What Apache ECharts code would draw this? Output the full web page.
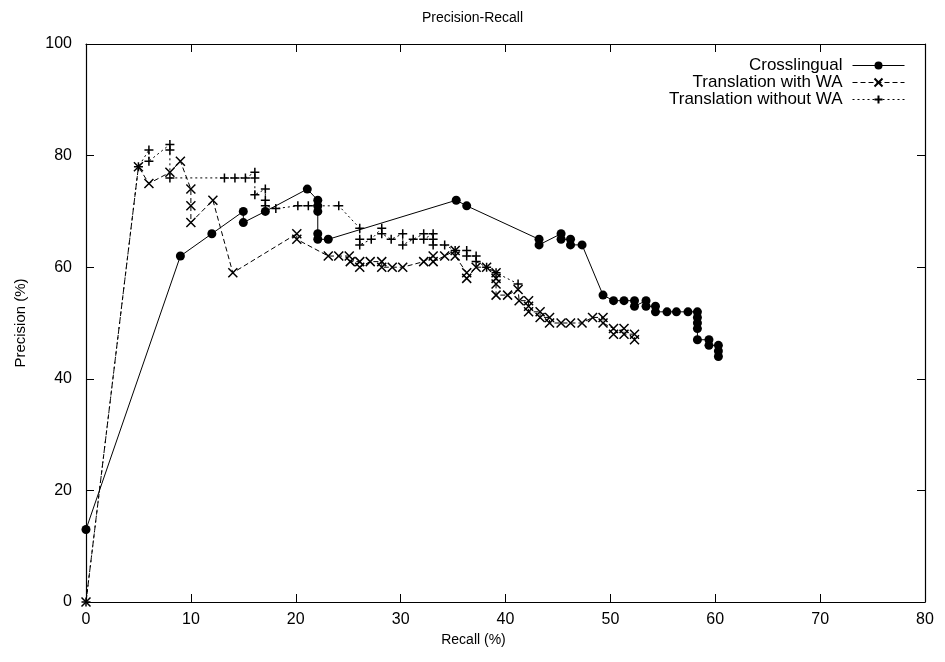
<!DOCTYPE html>
<html>
<head>
<meta charset="utf-8">
<script src="https://cdn.jsdelivr.net/npm/echarts@6/dist/echarts.min.js"></script>
<style>html,body{margin:0;padding:0;background:#fff}#c{width:945px;height:662px}</style>
</head>
<body>
<div id="c"></div>
<script>
var titleText = "Precision-Recall";
var seriesNames = ["Crosslingual", "Translation with WA", "Translation without WA"];
var xTicks = [0, 10, 20, 30, 40, 50, 60, 70, 80];
var yTicks = [0, 20, 40, 60, 80, 100];

var crossRecall = [0, 9, 12, 15, 15, 17.1, 21.1, 22.1, 22.1, 22.1, 22.1, 22.1, 23.1, 35.3, 36.3, 43.2, 43.2, 45.3, 45.3, 46.2, 46.2, 47.3, 49.3, 50.3, 51.3, 52.3, 52.3, 53.4, 53.4, 54.3, 54.3, 55.4, 56.3, 57.4, 58.3, 58.3, 58.3, 58.3, 58.3, 59.4, 59.4, 60.3, 60.3, 60.3];
var crossPrecision = [13, 62, 66, 70, 68, 70, 74, 72, 71, 70, 66, 65, 65, 72, 71, 65, 64, 66, 65, 65, 64, 64, 55, 54, 54, 54, 53, 54, 53, 53, 52, 52, 52, 52, 52, 51, 50, 49, 47, 47, 46, 46, 45, 44];

var withRecall = [0, 5, 6, 8, 9, 10, 10, 10, 12.1, 14, 20.1, 20.1, 23.1, 24.1, 25.1, 25.2, 26.1, 26.1, 27.1, 28.2, 28.2, 29.2, 30.2, 32.2, 33.1, 33.1, 34.2, 35.2, 35.2, 36.3, 36.3, 37.2, 38.2, 39.1, 39.1, 39.1, 39.1, 40.2, 41.2, 41.3, 42.2, 42.2, 42.2, 43.3, 43.3, 44.2, 44.2, 45.3, 46.2, 47.3, 48.3, 49.3, 49.3, 50.3, 50.3, 51.3, 51.3, 52.3, 52.3];
var withPrecision = [0, 78, 75, 77, 79, 74, 71, 68, 72, 59, 66, 65, 62, 62, 62, 61, 61, 60, 61, 61, 60, 60, 60, 61, 62, 61, 62, 63, 62, 59, 58, 60, 60, 59, 58, 57, 55, 55, 56, 54, 54, 53, 52, 52, 51, 51, 50, 50, 50, 50, 51, 51, 50, 49, 48, 49, 48, 48, 47];

var withoutRecall = [0, 5, 6, 6, 8, 8, 8, 13.2, 14.2, 15.2, 16.1, 16.1, 16.1, 17.1, 17.1, 17.1, 18.1, 20.2, 21.2, 24.1, 26.1, 26.1, 26.1, 27.2, 28.2, 28.2, 29.1, 30.2, 30.2, 31.2, 32.2, 32.2, 33.1, 33.1, 33.1, 34.2, 35.2, 36.3, 36.3, 37.2, 37.2, 38.2, 39.1, 41.2];
var withoutPrecision = [0, 78, 81, 79, 82, 81, 76, 76, 76, 76, 77, 76, 73, 74, 72, 71, 70.5, 71, 71, 71, 67, 65, 64, 65, 67, 66, 65, 66, 64, 65, 66, 65, 66, 65, 64, 64, 63, 63, 62, 62, 61, 60, 59, 57];

function pairs(xs, ys) { return xs.map(function (x, i) { return [x, ys[i]]; }); }

var FONT = "Liberation Sans";
var chart = echarts.init(document.getElementById('c'));
var axisCommon = {
  axisLine: { show: true, onZero: false, lineStyle: { color: '#000', width: 1.2 } },
  axisTick: { show: true, inside: true, length: 8, lineStyle: { color: '#000', width: 1 } },
  splitLine: { show: false }
};
function mkX(pos, showLabel) {
  return Object.assign({}, axisCommon, {
    type: 'value', position: pos, min: xTicks[0], max: xTicks[xTicks.length - 1], interval: 10,
    axisLabel: { show: showLabel, color: '#000', fontFamily: FONT, fontSize: 16, margin: 10 },
    name: showLabel ? 'Recall (%)' : '', nameLocation: 'middle', nameGap: 30,
    nameTextStyle: { color: '#000', fontFamily: FONT, fontSize: 14, padding: [0, 64, 0, 0] }
  });
}
function mkY(pos, showLabel) {
  return Object.assign({}, axisCommon, {
    type: 'value', position: pos, min: yTicks[0], max: yTicks[yTicks.length - 1], interval: 20,
    axisLabel: { show: showLabel, color: '#000', fontFamily: FONT, fontSize: 16, margin: 14 },
    name: showLabel ? 'Precision (%)' : '', nameLocation: 'middle', nameGap: 58, nameRotate: 90,
    nameTextStyle: { color: '#000', fontFamily: FONT, fontSize: 15 }
  });
}
var xMark = 'path://M0,0L10,10M10,0L0,10';
var plusMark = 'path://M5,0L5,10M0,5L10,5';
chart.setOption({
  animation: false,
  backgroundColor: '#fff',
  title: { text: titleText, left: 'center', top: 6, textStyle: { fontFamily: FONT, fontSize: 14, fontWeight: 'normal', color: '#000' } },
  grid: { left: 86, right: 20, top: 44, bottom: 60 },
  legend: {
    orient: 'vertical', right: 35, top: 52, align: 'right', itemGap: 0,
    itemWidth: 52, itemHeight: 10,
    lineStyle: { width: 1 },
    textStyle: { fontFamily: FONT, fontSize: 17, color: '#000', lineHeight: 14, padding: [0, 5, 0, 0] },
    data: seriesNames
  },
  xAxis: [mkX('bottom', true), mkX('top', false)],
  yAxis: [mkY('left', true), mkY('right', false)],
  series: [
    { name: seriesNames[0], type: 'line', data: pairs(crossRecall, crossPrecision),
      symbol: 'circle', symbolSize: 9, color: '#000',
      lineStyle: { color: '#000', width: 1, type: 'solid' }, itemStyle: { color: '#000' } },
    { name: seriesNames[1], type: 'line', data: pairs(withRecall, withPrecision),
      symbol: xMark, symbolSize: 9, color: '#000',
      lineStyle: { color: '#000', width: 1, type: [5, 3] },
      itemStyle: { color: '#000', borderColor: '#000', borderWidth: 1.5 } },
    { name: seriesNames[2], type: 'line', data: pairs(withoutRecall, withoutPrecision),
      symbol: plusMark, symbolSize: 9, color: '#000',
      lineStyle: { color: '#000', width: 1, type: [2, 3] },
      itemStyle: { color: '#000', borderColor: '#000', borderWidth: 1.5 } }
  ]
});
</script>
</body>
</html>
